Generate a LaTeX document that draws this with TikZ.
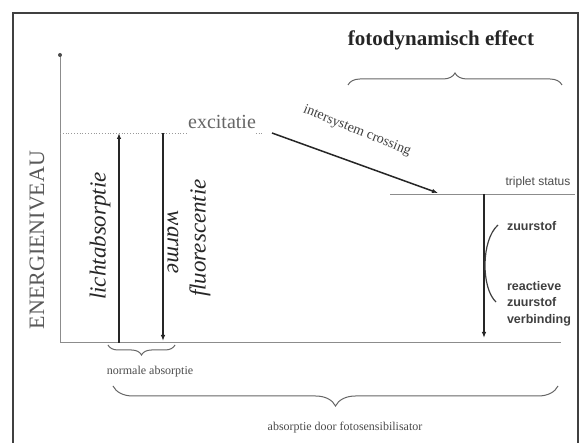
\documentclass[tikz,border=0pt]{standalone}
\usepackage{fontspec}
\setmainfont{Liberation Serif}
\setsansfont{Liberation Sans}
\usetikzlibrary{arrows.meta,decorations.pathreplacing}
\begin{document}
\begin{tikzpicture}[x=1pt,y=-1pt,
  frame/.style={draw=black!75,line width=1.2pt},
  axisline/.style={draw=black!45,line width=1pt},
  levelline/.style={draw=black!45,line width=0.8pt},
  dotline/.style={draw=black!40,line width=0.8pt,dotted},
  trans/.style={draw=black!85,line width=1.5pt,-{Latex[length=6pt,width=4.5pt]}},
  bracestyle/.style={draw=black!60,line width=1pt,decorate,decoration={brace,amplitude=#1}},
  curl/.style={draw=black!75,line width=1.2pt},
  lbl/.style={inner sep=0pt,outer sep=0pt},
  bigserif/.style={lbl,font=\fontsize{22}{24}\selectfont,text=black!65},
  itallbl/.style={lbl,font=\fontsize{23}{27}\selectfont\itshape,text=black!85},
  smallserif/.style={lbl,font=\fontsize{12}{14}\selectfont,text=black!70},
  sanslbl/.style={lbl,font=\sffamily\bfseries\fontsize{12.5}{16.5}\selectfont,text=black!75,align=left}
]
\useasboundingbox (0,0) rectangle (584,443);
\fill[white] (0,0) rectangle (584,443);
\draw[frame] (13,446) -- (13,13) -- (578,13) -- (578,446);

% axes
\coordinate (axtop) at (60,55);
\coordinate (axbot) at (60,343);
\coordinate (baseR) at (561,343);
\draw[axisline] (axtop) -- (axbot) -- (baseR);
\fill[black!70] (axtop) circle (2pt);
\node[bigserif,rotate=90] (energy) at (37,240) {ENERGIENIVEAU};

% excitation level
\node[lbl,anchor=base,font=\fontsize{20}{22}\selectfont,text=black!60] (exc) at (222,129) {excitatie};
\coordinate (exL) at (60,133);
\draw[dotline] (exL) -- (exL -| exc.west);
\draw[dotline] (exL -| exc.east) -- ++(8,0);

% absorption / fluorescence arrows
\coordinate (a1b) at (119,343);
\coordinate (a1t) at (119,133);
\coordinate (a2t) at (163,133);
\coordinate (a2b) at (163,341);
\draw[trans] (a1b) -- (a1t);
\draw[trans] (a2t) -- (a2b);
\node[itallbl,rotate=90] (licht) at (100,236) {lichtabsorptie};
\node[itallbl,rotate=-90] (warme) at (173,242) {warme};
\node[itallbl,rotate=90] (fluor) at (200,238) {fluorescentie};

% intersystem crossing
\coordinate (iscS) at (272,133);
\coordinate (iscE) at (438,193);
\draw[trans] (iscS) -- (iscE);
\node[lbl,rotate=-22,font=\fontsize{14}{16}\selectfont,text=black!75] (isc) at (357,131) {intersystem crossing};

% triplet level
\coordinate (trL) at (390,194);
\coordinate (trR) at (575,194);
\draw[levelline] (trL) -- (trR);
\node[lbl,anchor=base,font=\sffamily\fontsize{12}{14}\selectfont,text=black!70] (trip) at (538,186) {triplet status};
\coordinate (t1) at (484,194);
\coordinate (t2) at (484,338);
\draw[trans] (t1) -- (t2);
\coordinate (c1) at (498,225);
\coordinate (c2) at (496,302);
\draw[curl] (c1) .. controls (481,240) and (481,288) .. (c2);
\node[sanslbl,anchor=west] (o2) at (507,226) {zuurstof};
\node[sanslbl,anchor=north west] (ros) at (507,281) {reactieve\\zuurstof\\verbinding};

% braces
\coordinate (b1l) at (348,85);
\coordinate (b1r) at (562,85);
\draw[bracestyle=12pt] (b1l) -- (b1r);
\node[lbl,font=\bfseries\fontsize{21}{24}\selectfont,text=black!85] (foto) at (441,40) {fotodynamisch effect};

\coordinate (b2l) at (108,345);
\coordinate (b2r) at (175,345);
\draw[bracestyle=10pt] (b2r) -- (b2l);
\node[smallserif] (norm) at (150,372) {normale absorptie};

\coordinate (b3l) at (113,386);
\coordinate (b3r) at (558,386);
\draw[bracestyle=20pt] (b3r) -- (b3l);
\node[smallserif] (sens) at (345,428) {absorptie door fotosensibilisator};
\end{tikzpicture}
\end{document}
